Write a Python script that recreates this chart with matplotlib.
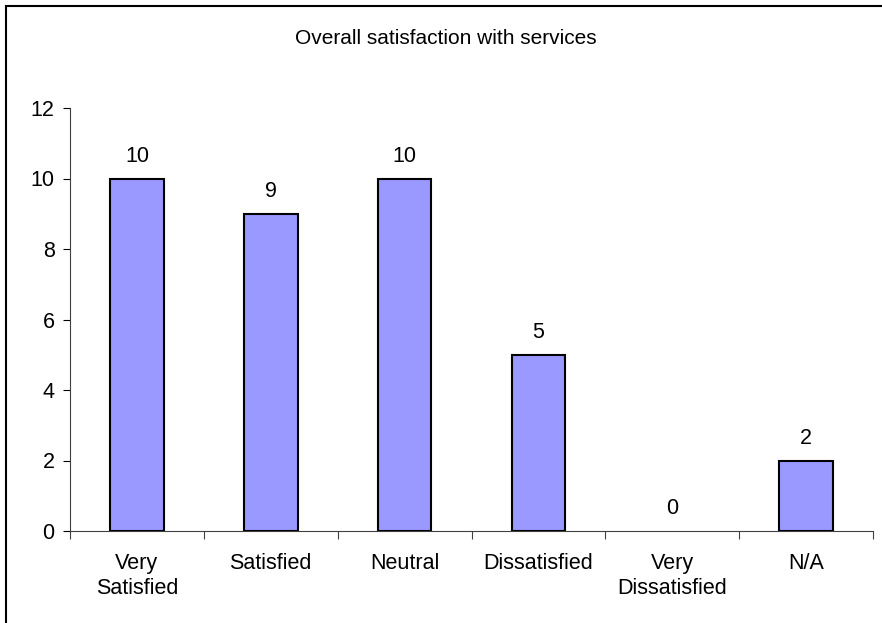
import matplotlib.pyplot as plt
from matplotlib.patches import Rectangle

plt.rcParams['font.family'] = ['Liberation Sans', 'DejaVu Sans']

categories = ['Very\nSatisfied', 'Satisfied', 'Neutral', 'Dissatisfied', 'Very\nDissatisfied', 'N/A']
counts = [10, 9, 10, 5, 0, 2]
title = 'Overall satisfaction with services'

fig = plt.figure(figsize=(8.82, 6.23), dpi=100)
ax = fig.add_axes([70 / 882, 92 / 623, 803 / 882, 423 / 623])

x = list(range(len(categories)))
bars = ax.bar(x, counts, width=0.4, color='#9999FF', edgecolor='black', linewidth=1.5, zorder=3)
for b, v in zip(bars, counts):
    if v == 0:
        b.set_linewidth(0)

# etiquetas de valor encima de cada barra
for xi, v in zip(x, counts):
    ax.annotate(str(v), (xi, v), textcoords='offset points', xytext=(0, 16),
                ha='center', va='center', fontsize=15.5)

ax.set_xlim(-0.5, len(categories) - 0.5)
ax.set_ylim(0, 12)
ax.set_yticks(range(0, 13, 2))
ax.tick_params(axis='y', direction='out', length=5, width=0.8, labelsize=15.5, pad=6)

# ticks del eje x entre categorias, etiquetas en el centro
ax.set_xticks([i - 0.5 for i in range(len(categories) + 1)])
ax.set_xticklabels([])
ax.set_xticks(x, minor=True)
ax.set_xticklabels(categories, minor=True, fontsize=15.5, linespacing=1.25)
ax.tick_params(axis='x', which='major', direction='out', length=6, width=0.8, colors='#404040')
ax.tick_params(axis='x', which='minor', length=0, pad=16, labelcolor='black')

for s in ['top', 'right']:
    ax.spines[s].set_visible(False)
ax.spines['left'].set_color('#404040')
ax.spines['bottom'].set_color('#404040')
ax.spines['left'].set_linewidth(0.8)
ax.spines['bottom'].set_linewidth(0.8)

fig.text(446 / 882, 1 - 38 / 623, title, ha='center', va='center', fontsize=15)

# marco de la grafica (se sale por la derecha y abajo)
fig.patches.append(Rectangle((6 / 882, -0.1), 1.2, 1 - 6 / 623 + 0.1, transform=fig.transFigure,
                             fill=False, edgecolor='black', linewidth=1.5))

fig.savefig('out.png', dpi=100)
